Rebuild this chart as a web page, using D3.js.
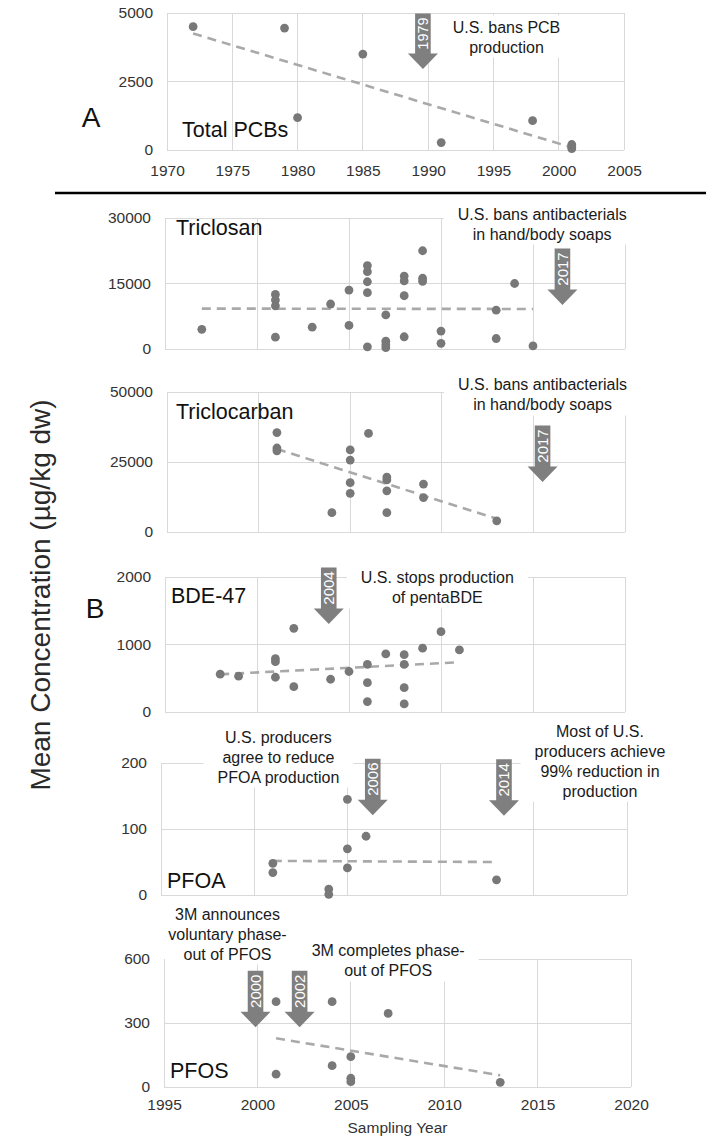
<!DOCTYPE html>
<html>
<head>
<meta charset="utf-8">
<script src="https://cdn.jsdelivr.net/npm/d3@7"></script>
<style>
  html, body { margin: 0; padding: 0; background: #fff; }
  svg { display: block; }
  text { font-family: "Liberation Sans", Arial, Helvetica, sans-serif; }
</style>
</head>
<body>
<svg id="chart" width="706" height="1143"></svg>
<script>
// ---------- data ----------
// A: total PCBs
const pcbYears  = [1972, 1979, 1980, 1985, 1991, 1998, 2001, 2001, 2001];
const pcbValues = [4500, 4450, 1180, 3500, 270, 1070, 200, 110, 50];

// B: triclosan
const triclosanYears  = [1997, 2001, 2001, 2001, 2001, 2003, 2004, 2005, 2005,
  2006, 2006, 2006, 2006, 2006, 2007, 2007, 2007, 2007, 2008, 2008, 2008, 2008,
  2009, 2009, 2009, 2010, 2010, 2013, 2013, 2014, 2015];
const triclosanValues = [4500, 12500, 11200, 9900, 2700, 5000, 10300, 13500, 5400,
  19100, 17700, 15400, 12900, 500, 7800, 1800, 1000, 300, 16700, 15600, 12200, 2800,
  22500, 16200, 15500, 4100, 1300, 8900, 2400, 15000, 700];

// B: triclocarban
const triclocarbanYears  = [2001, 2001, 2001, 2004, 2005, 2005, 2005, 2005, 2006,
  2007, 2007, 2007, 2007, 2009, 2009, 2013];
const triclocarbanValues = [35500, 30000, 29000, 6900, 29300, 25700, 17600, 13800, 35200,
  19600, 18600, 14700, 6900, 17100, 12300, 4000];

// B: BDE-47
const bdeYears  = [1998, 1999, 2001, 2001, 2001, 2002, 2002, 2004, 2005, 2006, 2006,
  2006, 2007, 2008, 2008, 2008, 2008, 2009, 2010, 2011];
const bdeValues = [560, 530, 790, 745, 515, 1240, 375, 485, 600, 705, 435,
  155, 860, 850, 705, 360, 120, 945, 1190, 920];

// B: PFOA
const pfoaYears  = [2001, 2001, 2004, 2004, 2005, 2005, 2005, 2006, 2013];
const pfoaValues = [48, 34, 9, 1, 145, 70, 41, 89, 23];

// B: PFOS
const pfosYears  = [2001, 2001, 2004, 2004, 2005, 2005, 2005, 2007, 2013];
const pfosValues = [400, 60, 400, 100, 142, 41, 25, 345, 22];

// tick values
const yearTicksA = [1970, 1975, 1980, 1985, 1990, 1995, 2000, 2005];
const yearTicksB = [1995, 2000, 2005, 2010, 2015, 2020];
const pcbTicks = [0, 2500, 5000];
const triclosanTicks = [0, 15000, 30000];
const triclocarbanTicks = [0, 25000, 50000];
const bdeTicks = [0, 1000, 2000];
const pfoaTicks = [0, 100, 200];
const pfosTicks = [0, 300, 600];

// regulatory milestones (arrow labels) and their captions
const pcbEvents = ["1979"];
const triclosanEvents = ["2017"];
const triclocarbanEvents = ["2017"];
const bdeEvents = ["2004"];
const pfoaEvents = ["2006", "2014"];
const pfosEvents = ["2000", "2002"];

const pcbNotes = [["U.S. bans PCB", "production"]];
const triclosanNotes = [["U.S. bans antibacterials", "in hand/body soaps"]];
const triclocarbanNotes = [["U.S. bans antibacterials", "in hand/body soaps"]];
const bdeNotes = [["U.S. stops production", "of pentaBDE"]];
const pfoaNotes = [["U.S. producers", "agree to reduce", "PFOA production"],
                   ["Most of U.S.", "producers achieve", "99% reduction in", "production"]];
const pfosNotes = [["3M announces", "voluntary phase-", "out of PFOS"],
                   ["3M completes phase-", "out of PFOS"]];

// ---------- layout ----------
const FONT = '"Liberation Sans", Arial, Helvetica, sans-serif';
const GRID = "#d9d9d9";
const DOT = "#787878";
const ARROW = "#7f7f7f";
const TREND = "#a9a9a9";

// plot frames in px; arrow tips and caption anchors in axis units
const frames = {
  pcb:          { left: 167, right: 624, top: 13,  bottom: 150, lx: 15, ly: 137,
                  arrows: [[1989.6, 2956]], notes: [[1996.0, 4288]] },
  triclosan:    { left: 165, right: 625, top: 218, bottom: 349, lx: 11, ly: 235,
                  arrows: [[2016.6, 10076]], notes: [[2015.5, 29656]] },
  triclocarban: { left: 167, right: 625, top: 392, bottom: 532, lx: 9, ly: 419,
                  arrows: [[2015.5, 17857]], notes: [[2015.5, 50536]] },
  bde:          { left: 165, right: 625, top: 577, bottom: 712, lx: 6, ly: 603,
                  arrows: [[2003.9, 1304]], notes: [[2009.8, 1904]] },
  pfoa:         { left: 161, right: 627, top: 763, bottom: 895, lx: 6, ly: 888,
                  arrows: [[2006.36, 121], [2013.4, 120]], notes: [[2001.3, 231], [2018.55, 240]] },
  pfos:         { left: 164, right: 631, top: 959, bottom: 1087, lx: 6, ly: 1078,
                  arrows: [[1999.9, 280], [2002.26, 280]], notes: [[1998.4, 785], [2007.0, 612]] }
};

const panels = [
  { id: "pcb", name: "Total PCBs", years: pcbYears, values: pcbValues, xDomain: [1970, 2005],
    xTicks: yearTicksA, yTicks: pcbTicks, xLabels: true, xPad: 14.5, events: pcbEvents, notes: pcbNotes },
  { id: "triclosan", name: "Triclosan", years: triclosanYears, values: triclosanValues, xDomain: [1995, 2020],
    xTicks: yearTicksB, yTicks: triclosanTicks, xLabels: false, events: triclosanEvents, notes: triclosanNotes },
  { id: "triclocarban", name: "Triclocarban", years: triclocarbanYears, values: triclocarbanValues, xDomain: [1995, 2020],
    xTicks: yearTicksB, yTicks: triclocarbanTicks, xLabels: false, events: triclocarbanEvents, notes: triclocarbanNotes },
  { id: "bde", name: "BDE-47", years: bdeYears, values: bdeValues, xDomain: [1995, 2020],
    xTicks: yearTicksB, yTicks: bdeTicks, xLabels: false, events: bdeEvents, notes: bdeNotes },
  { id: "pfoa", name: "PFOA", years: pfoaYears, values: pfoaValues, xDomain: [1995, 2020],
    xTicks: yearTicksB, yTicks: pfoaTicks, xLabels: false, events: pfoaEvents, notes: pfoaNotes },
  { id: "pfos", name: "PFOS", years: pfosYears, values: pfosValues, xDomain: [1995, 2020],
    xTicks: yearTicksB, yTicks: pfosTicks, xLabels: true, xPad: 12, events: pfosEvents, notes: pfosNotes }
];

// least-squares line through a series
function linearFit(xs, ys) {
  const mx = d3.mean(xs), my = d3.mean(ys);
  let sxy = 0, sxx = 0;
  xs.forEach((x, i) => { sxy += (x - mx) * (ys[i] - my); sxx += (x - mx) * (x - mx); });
  const slope = sxy / sxx;
  return x => my + slope * (x - mx);
}

const svg = d3.select("#chart");
svg.append("rect").attr("width", 706).attr("height", 1143).attr("fill", "#fff");

panels.forEach(p => {
  const f = frames[p.id];
  const x = d3.scaleLinear().domain(p.xDomain).range([f.left, f.right]);
  const y = d3.scaleLinear().domain(d3.extent(p.yTicks)).range([f.bottom, f.top]);
  const g = svg.append("g").attr("class", "panel " + p.id);

  // gridlines (outer ticks form the frame)
  const grid = g.append("g").attr("stroke", GRID).attr("stroke-width", 1).attr("shape-rendering", "crispEdges");
  grid.selectAll("line.h").data(p.yTicks).join("line").attr("class", "h")
    .attr("x1", f.left).attr("x2", f.right).attr("y1", d => y(d)).attr("y2", d => y(d));
  grid.selectAll("line.v").data(p.xTicks).join("line").attr("class", "v")
    .attr("x1", d => x(d)).attr("x2", d => x(d)).attr("y1", f.top).attr("y2", f.bottom);

  const boxLayer = g.append("g");

  // trend line
  const fit = linearFit(p.years, p.values);
  const span = d3.extent(p.years);
  g.append("line")
    .attr("x1", x(span[0])).attr("y1", y(fit(span[0])))
    .attr("x2", x(span[1])).attr("y2", y(fit(span[1])))
    .attr("stroke", TREND).attr("stroke-width", 2.6).attr("stroke-dasharray", "9,6");

  // observations
  g.selectAll("circle").data(p.years.map((yr, i) => [yr, p.values[i]])).join("circle")
    .attr("cx", d => x(d[0])).attr("cy", d => y(d[1])).attr("r", 4.4).attr("fill", DOT);

  // milestone arrows
  const bodyLen = p.id === "pcb" ? 40 : 41, headLen = 15.5, bodyHalf = 7.8, headHalf = 15;
  p.events.forEach((label, i) => {
    const [ax, av] = f.arrows[i];
    const tx = x(ax), ty = y(av);
    const path = d3.path();
    path.moveTo(tx, ty);
    path.lineTo(tx - headHalf, ty - headLen);
    path.lineTo(tx - bodyHalf, ty - headLen);
    path.lineTo(tx - bodyHalf, ty - headLen - bodyLen);
    path.lineTo(tx + bodyHalf, ty - headLen - bodyLen);
    path.lineTo(tx + bodyHalf, ty - headLen);
    path.lineTo(tx + headHalf, ty - headLen);
    path.closePath();
    g.append("path").attr("d", path.toString()).attr("fill", ARROW);
    const cy = ty - headLen - bodyLen / 2;
    g.append("text")
      .attr("transform", `translate(${tx},${cy}) rotate(-90)`)
      .attr("text-anchor", "middle").attr("dy", "0.36em")
      .attr("font-size", p.id === "pcb" ? 14.5 : 15).attr("fill", "#fff")
      .text(label);
  });

  // captions on white panels
  p.notes.forEach((lines, i) => {
    const [nx, nv] = f.notes[i];
    const t = g.append("text")
      .attr("x", x(nx)).attr("y", y(nv))
      .attr("text-anchor", "middle").attr("font-size", 16).attr("fill", "#1a1a1a");
    lines.forEach((line, k) => {
      t.append("tspan").attr("x", x(nx)).attr("dy", k === 0 ? 0 : 20).text(line);
    });
    const bb = t.node().getBBox();
    const x0 = Math.max(bb.x - 14, f.left + 1);
    boxLayer.append("rect")
      .attr("x", x0).attr("y", bb.y - 3)
      .attr("width", bb.x + bb.width + 14 - x0).attr("height", bb.height + 5)
      .attr("fill", "#fff");
  });

  // series name
  g.append("text").attr("x", f.left + f.lx).attr("y", f.ly)
    .attr("font-size", 21.5).attr("fill", "#111").text(p.name);

  // value axis labels
  const yAxis = d3.axisLeft(y).tickValues(p.yTicks).tickSize(0).tickPadding(14).tickFormat(d3.format("d"));
  const ya = g.append("g").attr("transform", `translate(${f.left},0)`).call(yAxis);
  ya.select(".domain").remove();
  ya.selectAll("text").attr("font-size", 15.5).attr("fill", "#333").attr("font-family", FONT);

  if (p.xLabels) {
    const xAxis = d3.axisBottom(x).tickValues(p.xTicks).tickSize(0).tickPadding(p.xPad).tickFormat(d3.format("d"));
    const xa = g.append("g").attr("transform", `translate(0,${f.bottom})`).call(xAxis);
    xa.select(".domain").remove();
    xa.selectAll("text").attr("font-size", 15.5).attr("fill", "#333").attr("font-family", FONT);
  }
});

// divider between sections A and B
svg.append("line").attr("x1", 55).attr("x2", 706).attr("y1", 193).attr("y2", 193)
  .attr("stroke", "#000").attr("stroke-width", 2.5);

// section letters
svg.append("text").attr("x", 91).attr("y", 127).attr("text-anchor", "middle")
  .attr("font-size", 28).attr("fill", "#111").text("A");
svg.append("text").attr("x", 95).attr("y", 618).attr("text-anchor", "middle")
  .attr("font-size", 28).attr("fill", "#111").text("B");

// shared axis titles
svg.append("text")
  .attr("transform", "translate(40,595) rotate(-90)")
  .attr("text-anchor", "middle").attr("dy", "0.36em")
  .attr("font-size", 28).attr("fill", "#2a2a2a")
  .text("Mean Concentration (µg/kg dw)");
svg.append("text").attr("x", (frames.pfos.left + frames.pfos.right) / 2).attr("y", 1133)
  .attr("text-anchor", "middle").attr("font-size", 15.5).attr("fill", "#333")
  .text("Sampling Year");
</script>
</body>
</html>
